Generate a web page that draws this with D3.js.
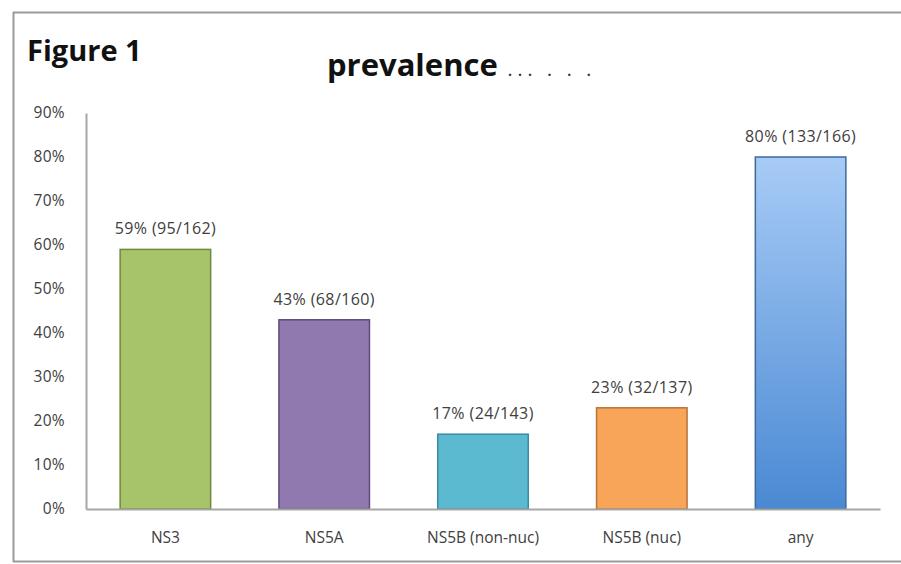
<!DOCTYPE html>
<html><head><meta charset="utf-8">
<script src="https://cdn.jsdelivr.net/npm/d3@7"></script>
<style>body{margin:0;background:#fff;}svg{display:block;}</style>
</head><body>
<svg id="c" width="901" height="564"></svg>
<script>
const categories = ["NS3", "NS5A", "NS5B (non-nuc)", "NS5B (nuc)", "any"];
const values = [59, 43, 17, 23, 80];
const labels = ["59% (95/162)", "43% (68/160)", "17% (24/143)", "23% (32/137)", "80% (133/166)"];
const colors = ["#A8C46A", "#9079AF", "#5BB9D0", "#F8A55A", "url(#gBlue)"];
const strokes = ["#6E8A3A", "#5E4A7C", "#3A8AA0", "#B8733A", "#3D6A9E"];
const yTicks = [0, 10, 20, 30, 40, 50, 60, 70, 80, 90];

const svg = d3.select("#c");
const font = "'Open Sans', sans-serif";

const defs = svg.append("defs");
const g1 = defs.append("linearGradient").attr("id", "gBlue").attr("x1", 0).attr("y1", 0).attr("x2", 0).attr("y2", 1);
g1.append("stop").attr("offset", "0%").attr("stop-color", "#A7CBF6");
g1.append("stop").attr("offset", "100%").attr("stop-color", "#4A89D3");

// frame
svg.append("line").attr("x1", 13).attr("x2", 901).attr("y1", 12.5).attr("y2", 12.5).attr("stroke", "#9a9a9a").attr("stroke-width", 2);
svg.append("line").attr("x1", 13.5).attr("x2", 13.5).attr("y1", 12).attr("y2", 562).attr("stroke", "#9a9a9a").attr("stroke-width", 2);
svg.append("line").attr("x1", 13).attr("x2", 901).attr("y1", 561.5).attr("y2", 561.5).attr("stroke", "#9a9a9a").attr("stroke-width", 2);

const x = d3.scaleBand().domain(categories).range([86, 880]).paddingInner(0.43).paddingOuter(0.215);
const y = d3.scaleLinear().domain([0, 90]).range([509, 113]);

// y axis
const yAxis = svg.append("g").attr("transform", "translate(86,0)")
  .call(d3.axisLeft(y).tickValues(yTicks).tickFormat(d => d + "%").tickSize(0).tickPadding(21));
yAxis.select(".domain").attr("stroke", "#a6a6a6").attr("stroke-width", 2);
yAxis.selectAll("text").attr("font-family", font).attr("font-size", 15.5).attr("letter-spacing", 0.3).attr("fill", "#404040");

// bars
svg.selectAll("rect.bar").data(categories).enter().append("rect")
  .attr("class", "bar")
  .attr("x", d => x(d))
  .attr("width", x.bandwidth())
  .attr("y", (d, i) => y(values[i]))
  .attr("height", (d, i) => y(0) - y(values[i]))
  .attr("fill", (d, i) => colors[i])
  .attr("stroke", (d, i) => strokes[i])
  .attr("stroke-width", 1.5);

// x axis
const xAxis = svg.append("g").attr("transform", "translate(0,509)")
  .call(d3.axisBottom(x).tickSize(0).tickPadding(23).tickSizeOuter(0));
xAxis.select(".domain").attr("stroke", "#a6a6a6").attr("stroke-width", 2);
xAxis.selectAll("text").attr("font-family", font).attr("font-size", 15.5).attr("fill", "#404040");

// data labels
svg.selectAll("text.lbl").data(categories).enter().append("text")
  .attr("class", "lbl")
  .attr("x", d => x(d) + x.bandwidth() / 2)
  .attr("y", (d, i) => y(values[i]) - 15)
  .attr("text-anchor", "middle")
  .attr("font-family", font).attr("font-size", 16).attr("letter-spacing", 0.4).attr("fill", "#404040")
  .text((d, i) => labels[i]);

// titles
svg.append("text").attr("x", 27).attr("y", 61).attr("font-family", font).attr("font-weight", "bold")
  .attr("font-size", 29).attr("letter-spacing", 0).attr("fill", "#111").text("Figure 1");
svg.append("text").attr("x", 327).attr("y", 76).attr("font-family", font).attr("font-weight", "bold")
  .attr("font-size", 31).attr("letter-spacing", 0).attr("fill", "#111").text("prevalence");
svg.append("text").attr("x", 508).attr("y", 76).attr("font-family", font).attr("font-weight", "bold")
  .attr("font-size", 14).attr("fill", "#333").attr("letter-spacing", 6).text("... . . .");
</script>
</body></html>
